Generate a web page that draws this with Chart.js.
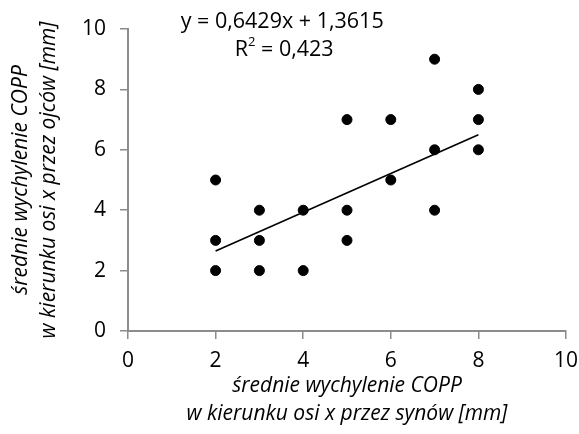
<!DOCTYPE html>
<html><head><meta charset="utf-8">
<script src="https://cdn.jsdelivr.net/npm/chart.js@4"></script>
<style>html,body{margin:0;padding:0;background:#fff}#wrap{width:579px;height:434px}</style>
</head><body><div id="wrap"><canvas id="c" width="579" height="434"></canvas></div>
<script>
const xValues = [2,2,2,3,3,3,4,4,5,5,5,6,6,7,7,7,8,8,8];
const yValues = [5,3,2,4,3,2,4,2,7,4,3,7,5,9,6,4,8,7,6];
const trendX = [2, 8];
const trendY = [2.65, 6.50];
const xTicks = [0,2,4,6,8,10];
const yTicks = [0,2,4,6,8,10];
const equationText = 'y = 0,6429x + 1,3615';
const r2Text = '0,423';
const xTitle = ['średnie wychylenie COPP','w kierunku osi x przez synów [mm]'];
const yTitle = ['średnie wychylenie COPP','w kierunku osi x przez ojców [mm]'];

const FONT = "'Open Sans', 'Noto Sans', sans-serif";
const axisGray = '#8c8c8c';

const eqPlugin = {
  id: 'eq',
  afterDraw(chart) {
    const ctx = chart.ctx, xs = chart.scales.x, ys = chart.scales.y;
    const cx = xs.getPixelForValue(3.52);
    ctx.save();
    ctx.fillStyle = '#000';
    ctx.textAlign = 'center';
    ctx.textBaseline = 'middle';
    ctx.font = '21.5px ' + FONT;
    ctx.fillText(equationText, cx, ys.getPixelForValue(10.23));
    const y2 = ys.getPixelForValue(9.30);
    const a = 'R', b = ' = ' + r2Text;
    const wa = ctx.measureText(a).width;
    ctx.font = '13px ' + FONT;
    const ws = ctx.measureText('2').width;
    ctx.font = '21.5px ' + FONT;
    const wb = ctx.measureText(b).width;
    let x0 = cx - (wa + ws + wb) / 2 + 2;
    ctx.textAlign = 'left';
    ctx.fillText(a, x0, y2);
    ctx.font = '13px ' + FONT;
    ctx.fillText('2', x0 + wa, y2 - 8);
    ctx.font = '21.5px ' + FONT;
    ctx.fillText(b, x0 + wa + ws, y2);
    ctx.restore();
  }
};

new Chart(document.getElementById('c'), {
  type: 'scatter',
  data: {
    datasets: [
      {
        data: xValues.map((x, i) => ({x, y: yValues[i]})),
        backgroundColor: '#000', borderColor: '#000',
        pointRadius: 5, pointHoverRadius: 5
      },
      {
        type: 'line',
        data: trendX.map((x, i) => ({x, y: trendY[i]})),
        borderColor: '#000', borderWidth: 1.6,
        pointRadius: 0, fill: false
      }
    ]
  },
  options: {
    responsive: false, animation: false,
    layout: { padding: { top: 29, right: 13, left: 0, bottom: 0 } },
    plugins: { legend: { display: false }, tooltip: { enabled: false } },
    scales: {
      x: {
        type: 'linear', min: 0, max: 10,
        afterBuildTicks: s => { s.ticks = xTicks.map(v => ({value: v})); },
        afterFit: s => { s.height = 103; s.paddingLeft = 0; s.paddingRight = 0; },
        grid: { drawOnChartArea: false, color: axisGray, tickLength: 8, lineWidth: 1.5 },
        border: { color: axisGray, width: 2 },
        ticks: { color: '#000', font: { size: 21, family: FONT }, padding: 9, maxRotation: 0 },
        title: { display: true, text: xTitle, color: '#000', font: { size: 21, family: FONT, style: 'italic', lineHeight: 1.33 }, padding: { top: 2, bottom: 6 } }
      },
      y: {
        type: 'linear', min: 0, max: 10,
        afterBuildTicks: s => { s.ticks = yTicks.map(v => ({value: v})); },
        afterFit: s => { s.width = 128; s.paddingTop = 0; s.paddingBottom = 0; },
        grid: { drawOnChartArea: false, color: axisGray, tickLength: 8, lineWidth: 1.5 },
        border: { color: axisGray, width: 2 },
        ticks: { color: '#000', font: { size: 21, family: FONT }, padding: 14 },
        title: { display: true, text: yTitle, color: '#000', font: { size: 21, family: FONT, style: 'italic', lineHeight: 1.33 }, padding: { top: 7 } }
      }
    }
  },
  plugins: [eqPlugin]
});
</script></body></html>
